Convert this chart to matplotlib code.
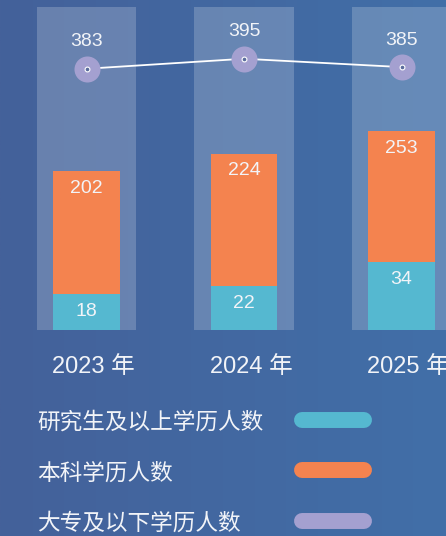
import numpy as np
import matplotlib
matplotlib.use("Agg")
import matplotlib.pyplot as plt
from matplotlib.colors import LinearSegmentedColormap

plt.rcParams['font.family'] = ['Liberation Sans', 'Noto Sans CJK SC', 'DejaVu Sans']

years = ['2023 年', '2024 年', '2025 年']
grad = [18, 22, 34]          # 研究生及以上
bach = [202, 224, 253]       # 本科
college = [383, 395, 385]    # 大专及以下
legend_names = ['研究生及以上学历人数', '本科学历人数', '大专及以下学历人数']

c_grad = '#55b8d0'
c_bach = '#f4834f'
c_col = '#a4a0d0'
txt = '#f2f4f8'

W, H = 446, 536
fig = plt.figure(figsize=(W / 100, H / 100), dpi=100)

# background gradient
bg = fig.add_axes([0, 0, 1, 1])
cmap = LinearSegmentedColormap.from_list('bg', ['#44619a', '#416fa8'])
gx = np.linspace(0, 1, 256)
bg.imshow(np.tile(gx, (10, 1)), cmap=cmap, aspect='auto', extent=[0, 1, 0, 1])
bg.set_axis_off()

# plot area: px 330 (bottom) .. 7 (top)
rect = [0, (H - 330) / H, 1, (330 - 7) / H]
x = np.arange(len(years))
xl = (-86.5 / 157.5, (W - 86.5) / 157.5)

ax_b = fig.add_axes(rect)   # orange
ax_b.set_xlim(*xl)
ax_b.set_ylim(0, 410)
ax_b.bar(x, [410] * 3, width=0.63, color='white', alpha=0.2, linewidth=0)
ax_b.bar(x, bach, width=0.42, color=c_bach, linewidth=0)
for xi, v in zip(x, bach):
    ax_b.annotate(str(v), (xi, v), xytext=(0, -12.5), textcoords='offset points',
                  ha='center', va='center', color=txt, fontsize=14)
ax_b.set_axis_off()

ax_g = fig.add_axes(rect)   # cyan
ax_g.set_xlim(*xl)
ax_g.set_ylim(0, 162)
ax_g.bar(x, grad, width=0.42, color=c_grad, linewidth=0)
for xi, v in zip(x, grad):
    ax_g.annotate(str(v), (xi, v), xytext=(0, -12.5), textcoords='offset points',
                  ha='center', va='center', color=txt, fontsize=14)
ax_g.set_axis_off()

ax_l = fig.add_axes(rect)   # line
ax_l.set_xlim(*xl)
ax_l.set_ylim(70, 457)
ax_l.plot(x, college, color='white', lw=1.3, zorder=2)
ax_l.scatter(x, college, s=26 ** 2 * 0.52, color=c_col, zorder=3, linewidths=0)
ax_l.scatter(x, college, s=12, facecolor='#5a6c9c', edgecolor='white', linewidths=0.8, zorder=4)
for xi, v in zip(x, college):
    ax_l.annotate(str(v), (xi, v), xytext=(0, 19.5), textcoords='offset points',
                  ha='center', va='center', color=txt, fontsize=14)
ax_l.set_axis_off()

# category labels
for xi, lab in zip(x, years):
    px = 93.5 + xi * 157.5
    fig.text(px / W, 1 - 367 / H, lab, ha='center', va='center', color=txt, fontsize=17)

# legend
for i, (name, col) in enumerate(zip(legend_names, [c_grad, c_bach, c_col])):
    py = 1 - (419.5 + i * 50.5) / H
    fig.text(37 / W, py - 3 / H, name, ha='left', va='center', color=txt, fontsize=16.3)
    bg.plot([302 / W, 364 / W], [py, py], color=col, lw=11.5, solid_capstyle='round',
            transform=fig.transFigure)

fig.savefig('out.png', dpi=100)
